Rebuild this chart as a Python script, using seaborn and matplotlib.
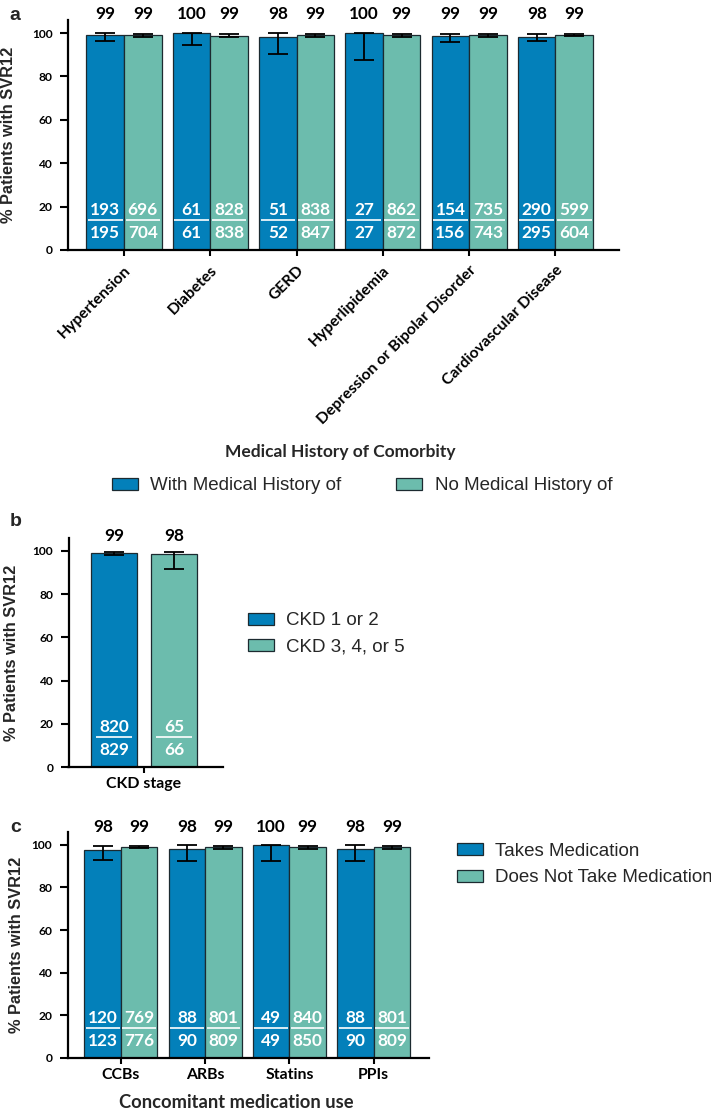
import numpy as np
import pandas as pd
import matplotlib
matplotlib.use("Agg")
import matplotlib.pyplot as plt
from matplotlib.container import BarContainer
from matplotlib.font_manager import FontProperties
import seaborn as sns

# ---------------- data ----------------
comorbidities = ["Hypertension", "Diabetes", "GERD", "Hyperlipidemia",
                 "Depression or Bipolar Disorder", "Cardiovascular Disease"]
a_series = ["With Medical History of", "No Medical History of"]
a_with_pct = [99.0, 100.0, 98.1, 100.0, 98.7, 98.3]
a_with_lo = [96.5, 94.3, 90.2, 87.7, 95.7, 96.3]
a_with_hi = [99.8, 100.0, 99.8, 100.0, 99.7, 99.4]
a_no_pct = [98.9, 98.8, 98.9, 98.9, 98.9, 99.2]
a_no_lo = [98.0, 98.0, 98.3, 98.0, 98.2, 98.5]
a_no_hi = [99.6, 99.6, 99.5, 99.5, 99.5, 99.6]
a_with_n = [193, 61, 51, 27, 154, 290]
a_with_N = [195, 61, 52, 27, 156, 295]
a_no_n = [696, 828, 838, 862, 735, 599]
a_no_N = [704, 838, 847, 872, 743, 604]
a_with_top = ["99", "100", "98", "100", "99", "98"]
a_no_top = ["99", "99", "99", "99", "99", "99"]

b_category = ["CKD stage"]
b_groups = ["CKD 1 or 2", "CKD 3, 4, or 5"]
b_pct = [98.9, 98.5]
b_lo = [98.0, 91.8]
b_hi = [99.5, 99.7]
b_n = [820, 65]
b_N = [829, 66]
b_top = ["99", "98"]

medications = ["CCBs", "ARBs", "Statins", "PPIs"]
c_series = ["Takes Medication", "Does Not Take Medication"]
c_take_pct = [97.6, 97.8, 100.0, 97.8]
c_take_lo = [93.0, 92.2, 92.5, 92.2]
c_take_hi = [99.2, 99.7, 100.0, 99.7]
c_not_pct = [99.1, 99.0, 98.8, 99.0]
c_not_lo = [98.4, 98.2, 97.9, 98.2]
c_not_hi = [99.6, 99.5, 99.4, 99.5]
c_take_n = [120, 88, 49, 88]
c_take_N = [123, 90, 49, 90]
c_not_n = [769, 801, 840, 801]
c_not_N = [776, 809, 850, 809]
c_take_top = ["98", "98", "100", "98"]
c_not_top = ["99", "99", "99", "99"]

yticks = [0, 20, 40, 60, 80, 100]

# ---------------- style ----------------
sns.set_style("ticks")
plt.rcParams["font.family"] = ["Lato", "DejaVu Sans"]
BLUE = "#0380BA"
TEAL = "#6CBCAD"
EDGE = "#1c2a30"
W_PX, H_PX = 711, 1115
LATO = ["Lato", "DejaVu Sans"]
ARIAL = ["Liberation Sans", "DejaVu Sans"]

fig = plt.figure(figsize=(W_PX / 100, H_PX / 100), dpi=100)
renderer = fig.canvas.get_renderer()


def fit_size(sample, target_px, family=LATO, weight="bold"):
    """Font size (pt) at which `sample` is about `target_px` wide."""
    fp = FontProperties(family=family, weight=weight, size=10)
    w, _, _ = renderer.get_text_width_height_descent(sample, fp, ismath=False)
    return 10 * target_px / w


SZ_YTICK = fit_size("100", 21)
SZ_TOP = fit_size("99", 20)
SZ_INNER = fit_size("195", 30)
SZ_XTICK_A = fit_size("Hypertension", 96)
SZ_XLAB_A = fit_size("Medical History of Comorbity", 231)
SZ_XTICK_C = fit_size("CKD stage", 75)
SZ_XLAB_C = fit_size("Concomitant medication use", 234)
SZ_YLAB = fit_size("% Patients with SVR12", 177, family=ARIAL)
SZ_LEG = fit_size("CKD 1 or 2", 93, family=ARIAL, weight="normal")
BOLD = dict(family=LATO, weight="bold")


def axes_px(left, right, y0, top):
    return fig.add_axes([left / W_PX, 1 - y0 / H_PX, (right - left) / W_PX, (y0 - top) / H_PX])


def bar_containers(ax):
    return [c for c in ax.containers if isinstance(c, BarContainer)]


def style_axes(ax, ylab_x):
    ax.set_ylim(0, 106)
    ax.set_yticks(yticks)
    ax.set_yticklabels([str(t) for t in yticks], fontdict=dict(size=SZ_YTICK, **BOLD))
    for s in ["top", "right"]:
        ax.spines[s].set_visible(False)
    for s in ["left", "bottom"]:
        ax.spines[s].set_linewidth(1.6)
        ax.spines[s].set_color("black")
    ax.tick_params(axis="y", direction="out", length=5.5, width=1.5, pad=5.5, colors="black")
    ax.tick_params(axis="x", direction="out", length=4.5, width=1.5, pad=3, colors="black")
    ax.set_ylabel("% Patients with SVR12", family=ARIAL, weight="bold", fontsize=SZ_YLAB)
    ax.yaxis.label.set_verticalalignment("center")
    ax.yaxis.set_label_coords(ylab_x, 0.5)


def annotate(ax, pcts, los, his, tops, ns, Ns, inset, top_y):
    for ci, cont in enumerate(bar_containers(ax)):
        for j, bar in enumerate(list(cont)):
            w = bar.get_width()
            x = bar.get_x() + w / 2
            h = pcts[ci][j]
            ax.errorbar([x], [h], yerr=[[h - los[ci][j]], [his[ci][j] - h]], fmt="none",
                        ecolor="black", elinewidth=1.3, capsize=7.2, capthick=1.3, zorder=5)
            ax.text(x, top_y, tops[ci][j], ha="center", va="center", fontsize=SZ_TOP,
                    color="black", clip_on=False, **BOLD)
            ax.text(x, 18.6, str(ns[ci][j]), ha="center", va="center", fontsize=SZ_INNER,
                    color="white", zorder=6, **BOLD)
            ax.text(x, 8.0, str(Ns[ci][j]), ha="center", va="center", fontsize=SZ_INNER,
                    color="white", zorder=6, **BOLD)
            ax.plot([bar.get_x() + w * inset, bar.get_x() + w * (1 - inset)], [13.9, 13.9],
                    color="white", lw=1.2, zorder=6, solid_capstyle="butt")


def legend(ax, labels, **kw):
    bc = bar_containers(ax)
    ax.legend(handles=[bc[0][0], bc[1][0]], labels=labels, frameon=False,
              prop=dict(family=ARIAL, size=SZ_LEG), handlelength=1.39, handleheight=0.62,
              handletextpad=0.66, borderpad=0, borderaxespad=0,
              bbox_transform=fig.transFigure, **kw)


# ---------------- panel a ----------------
ax_a = axes_px(68, 619, 250, 20)
df_a = pd.DataFrame({
    "Comorbidity": comorbidities * 2,
    "Group": [a_series[0]] * 6 + [a_series[1]] * 6,
    "SVR12": a_with_pct + a_no_pct,
})
sns.barplot(data=df_a, x="Comorbidity", y="SVR12", hue="Group", hue_order=a_series,
            order=comorbidities, palette=[BLUE, TEAL], width=0.87, errorbar=None,
            edgecolor=EDGE, linewidth=0.9, saturation=1, ax=ax_a, legend=False)
ax_a.set_xlim(-0.649, 5.736)
style_axes(ax_a, -0.108)
legend(ax_a, a_series, loc="center", bbox_to_anchor=(362 / W_PX, 1 - 486 / H_PX),
       ncol=2, columnspacing=2.93)
annotate(ax_a, [a_with_pct, a_no_pct], [a_with_lo, a_no_lo], [a_with_hi, a_no_hi],
         [a_with_top, a_no_top], [a_with_n, a_no_n], [a_with_N, a_no_N], 0.04, 108.8)
ax_a.set_xticks(range(len(comorbidities)))
ax_a.set_xticklabels(comorbidities, rotation=45, ha="right", va="top",
                     rotation_mode="anchor", fontsize=SZ_XTICK_A, **BOLD)
ax_a.tick_params(axis="x", pad=5)
ax_a.set_xlabel("Medical History of Comorbity", fontsize=SZ_XLAB_A, **BOLD)
ax_a.xaxis.label.set_verticalalignment("center")
ax_a.xaxis.set_label_coords(0.495, -(452 - 250) / 230)

# ---------------- panel b ----------------
ax_b = axes_px(68.5, 223, 767, 538)
df_b = pd.DataFrame({"Stage": b_category * 2, "Group": b_groups, "SVR12": b_pct})
sns.barplot(data=df_b, x="Stage", y="SVR12", hue="Group", hue_order=b_groups,
            palette=[BLUE, TEAL], width=0.8, gap=0.233, errorbar=None,
            edgecolor=EDGE, linewidth=0.9, saturation=1, ax=ax_b, legend=False)
ax_b.set_xlim(-0.503, 0.527)
style_axes(ax_b, -0.372)
legend(ax_b, b_groups, loc="center left", bbox_to_anchor=(248 / W_PX, 1 - 634 / H_PX),
       labelspacing=0.5)
annotate(ax_b, [[b_pct[0]], [b_pct[1]]], [[b_lo[0]], [b_lo[1]]], [[b_hi[0]], [b_hi[1]]],
         [[b_top[0]], [b_top[1]]], [[b_n[0]], [b_n[1]]], [[b_N[0]], [b_N[1]]], 0.1, 107.0)
ax_b.set_xticks([0])
ax_b.set_xticklabels(b_category, fontsize=SZ_XTICK_C, **BOLD)
ax_b.set_xlabel("")

# ---------------- panel c ----------------
ax_c = axes_px(67.5, 429, 1058, 832)
df_c = pd.DataFrame({
    "Medication": medications * 2,
    "Group": [c_series[0]] * 4 + [c_series[1]] * 4,
    "SVR12": c_take_pct + c_not_pct,
})
sns.barplot(data=df_c, x="Medication", y="SVR12", hue="Group", hue_order=c_series,
            order=medications, palette=[BLUE, TEAL], width=0.867, errorbar=None,
            edgecolor=EDGE, linewidth=0.9, saturation=1, ax=ax_c, legend=False)
ax_c.set_xlim(-0.635, 3.658)
style_axes(ax_c, -0.142)
legend(ax_c, c_series, loc="center left", bbox_to_anchor=(456.6 / W_PX, 1 - 864.5 / H_PX),
       labelspacing=0.5)
annotate(ax_c, [c_take_pct, c_not_pct], [c_take_lo, c_not_lo], [c_take_hi, c_not_hi],
         [c_take_top, c_not_top], [c_take_n, c_not_n], [c_take_N, c_not_N], 0.04, 108.5)
ax_c.set_xticks(range(len(medications)))
ax_c.set_xticklabels(medications, fontsize=SZ_XTICK_C, **BOLD)
ax_c.set_xlabel("Concomitant medication use", fontsize=SZ_XLAB_C, **BOLD)
ax_c.xaxis.label.set_verticalalignment("center")
ax_c.xaxis.set_label_coords(0.466, -(1102 - 1058) / 226)

# ---------------- panel letters ----------------
for letter, (px, py) in zip(["a", "b", "c"], [(15, 15), (16, 522), (16, 827)]):
    fig.text(px / W_PX, 1 - py / H_PX, letter, ha="center", va="center",
             family=ARIAL, weight="bold", fontsize=14)

fig.savefig("out.png", dpi=100)
